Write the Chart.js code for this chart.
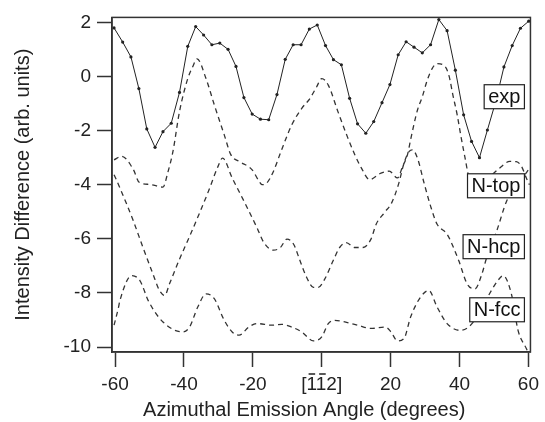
<!DOCTYPE html>
<html>
<head>
<meta charset="utf-8">
<script src="https://cdn.jsdelivr.net/npm/chart.js@4/dist/chart.umd.min.js"></script>
<style>
  body { margin: 0; background: #fff; }
  #wrap { width: 545px; height: 422px; position: relative; }
</style>
</head>
<body>
<div id="wrap"><canvas id="azimuth-chart"></canvas></div>
<script>
/* global Chart */

// measured curve (solid line with dots)
const expAngle = [-60.3, -57.8, -55.4, -53.1, -50.8, -48.4, -46.1, -43.7, -41.3, -38.9, -36.6, -34.3, -31.9,
  -29.6, -27.2, -24.9, -22.6, -20.2, -17.8, -15.4, -13.0, -10.6, -8.3, -6.0, -3.6, -1.3, 1.1, 3.4, 5.7,
  8.1, 10.4, 12.8, 15.1, 17.5, 19.8, 22.2, 24.5, 26.8, 29.2, 31.6, 34.0, 36.4, 38.8, 41.2, 43.5, 45.8,
  48.1, 50.5, 52.9, 55.3, 57.7, 60.1];
const expValue = [1.79, 1.27, 0.72, -0.45, -1.94, -2.62, -2.04, -1.73, -0.59, 1.11, 1.84, 1.53, 1.17,
  1.23, 1.0, 0.37, -0.78, -1.39, -1.58, -1.6, -0.67, 0.63, 1.17, 1.17, 1.75, 1.9, 1.14, 0.62, 0.43,
  -0.81, -1.75, -2.1, -1.67, -0.97, -0.3, 0.8, 1.28, 1.08, 0.87, 1.17, 2.1, 1.69, 0.23, -1.42, -2.4, -3.0,
  -1.98, -0.94, 0.35, 1.14, 1.78, 2.04];

// simulations (dashed)
const topAngle = [-60.3, -58.1, -54.7, -53.0, -49.9, -46.1, -44.7, -43.2, -41.3, -38.9, -37.5, -36.2, -33.6,
  -31.2, -28.3, -26.4, -24.0, -20.2, -18.3, -17.3, -15.9, -14.0, -12.0, -8.7, -5.8, -3.4, -1.5, 0.0, 1.9,
  4.7, 7.6, 9.6, 11.5, 13.9, 17.2, 19.6, 22.0, 23.5, 24.9, 25.8, 27.8, 29.2, 30.6, 32.1, 33.5, 35.9, 37.0,
  38.1, 39.3, 40.4, 41.6, 42.7, 45.0, 47.9, 51.7, 54.6, 56.5, 58.0, 59.4, 60.3];
const topValue = [-3.08, -2.95, -3.44, -3.91, -3.99, -4.09, -3.55, -2.77, -1.3, -0.08, 0.35, 0.65, -0.08,
  -1.05, -2.16, -2.89, -3.14, -3.45, -3.85, -4.0, -3.93, -3.5, -2.83, -1.79, -1.18, -0.81, -0.39, -0.08, -0.32,
  -1.3, -2.28, -2.89, -3.38, -3.81, -3.57, -3.5, -3.75, -3.32, -2.89, -2.34, -1.24, -0.75, -0.15, 0.3, 0.47, 0.35, 0.0,
  -0.7, -1.4, -2.2, -3.0, -3.7, -4.0, -3.8, -3.38, -3.14, -3.15, -3.32, -3.75, -4.0];

const hcpAngle = [-60.3, -58.6, -54.7, -51.9, -49.0, -47.1, -45.6, -44.2, -41.3, -38.4, -35.5, -32.7, -30.3,
  -28.8, -26.0, -22.1, -18.8, -16.8, -14.0, -12.0, -10.1, -8.2, -6.3, -4.4, -2.4, -1.0, 0.9, 3.3, 5.2, 7.1,
  9.6, 12.0, 14.3, 15.8, 18.2, 20.3, 22.3, 23.9, 25.4, 26.3, 27.8, 29.7, 31.6, 33.5, 36.4, 39.8, 42.2, 44.5,
  46.5, 47.9, 50.8, 53.7, 55.1, 58.0, 60.3];
const hcpValue = [-3.63, -4.12, -5.34, -6.32, -7.3, -7.91, -8.09, -7.66, -6.75, -5.92, -5.05, -4.18, -3.38,
  -3.02, -3.75, -4.73, -5.59, -6.14, -6.42, -6.32, -6.01, -6.19, -6.81, -7.42, -7.79, -7.79, -7.48, -6.81, -6.32, -6.14,
  -6.32, -6.32, -6.01, -5.46, -5.03, -4.67, -3.98, -3.2, -2.77, -2.71, -3.02, -3.93, -4.79, -5.46, -5.83, -6.81, -7.66, -7.85,
  -7.3, -6.69, -5.71, -4.6, -4.3, -3.8, -3.4];

const fccAngle = [-60.3, -59.1, -58.6, -55.2, -52.8, -50.3, -46.1, -40.3, -38.4, -36.0, -33.6, -31.2, -28.3,
  -26.0, -24.0, -21.2, -18.8, -14.4, -11.6, -8.7, -5.8, -2.4, 0.0, 1.9, 3.8, 6.7, 10.5, 14.3, 18.6, 20.1,
  22.0, 23.9, 25.8, 28.7, 31.1, 33.5, 36.4, 40.2, 42.6, 45.0, 48.4, 50.8, 52.7, 55.1, 57.0, 59.4, 60.3];
const fccValue = [-9.19, -8.58, -8.28, -7.36, -7.54, -8.3, -9.07, -9.44, -9.26, -8.52, -8.03, -8.21, -9.01,
  -9.44, -9.56, -9.26, -9.13, -9.19, -9.16, -9.26, -9.44, -9.77, -9.62, -9.13, -9.01, -9.07, -9.19, -9.31, -9.26, -9.44,
  -9.77, -9.68, -8.89, -8.15, -7.91, -8.52, -9.13, -9.38, -9.26, -8.9, -8.1, -7.6, -7.36, -8.05, -9.38, -10.05, -10.3];

const xTickValues = [-60, -40, -20, 0, 20, 40, 60];
const xTickLabels = ['-60', '-40', '-20', '[112]', '20', '40', '60'];
const yTickValues = [-10, -8, -6, -4, -2, 0, 2];

const curveNames = ['exp', 'N-top', 'N-hcp', 'N-fcc'];
const curveLabelValue = [-0.75, -4.04, -6.29, -8.62];
const curveLabelAngle = 58.85;

const xTitle = 'Azimuthal Emission Angle (degrees)';

const FONT = '"Liberation Sans", Arial, Helvetica, sans-serif';
const INK = '#222';

const toPoints = (xs, ys) => xs.map((x, i) => ({x: x, y: ys[i]}));

function dashed(label, xs, ys) {
  return {
    label: label,
    data: toPoints(xs, ys),
    showLine: true,
    borderColor: '#333',
    borderWidth: 1.3,
    borderDash: [5, 4],
    pointRadius: 0,
    cubicInterpolationMode: 'monotone'
  };
}

// frame, curve labels, x title and the bars over the [-1-12] tick
const decorations = {
  id: 'decorations',
  afterDatasetsDraw(chart) {
    const {ctx, chartArea: a, scales: {x, y}} = chart;
    ctx.save();
    ctx.strokeStyle = '#333';
    ctx.lineWidth = 1.5;
    ctx.strokeRect(a.left, a.top, a.right - a.left, a.bottom - a.top);

    ctx.font = '20px ' + FONT;
    ctx.textAlign = 'center';
    ctx.textBaseline = 'middle';
    curveNames.forEach((name, i) => {
      const w = ctx.measureText(name).width + 8;
      const h = 24;
      const right = x.getPixelForValue(curveLabelAngle);
      const cy = y.getPixelForValue(curveLabelValue[i]);
      ctx.fillStyle = '#fff';
      ctx.fillRect(right - w, cy - h / 2, w, h);
      ctx.lineWidth = 1.2;
      ctx.strokeStyle = '#222';
      ctx.strokeRect(right - w, cy - h / 2, w, h);
      ctx.fillStyle = '#111';
      ctx.fillText(name, right - w / 2, cy + 1);
    });
    ctx.restore();
  },
  afterDraw(chart) {
    const {ctx, chartArea: a, scales: {x}} = chart;
    ctx.save();
    ctx.font = '19px ' + FONT;
    const label = xTickLabels[xTickValues.indexOf(0)];
    const total = ctx.measureText(label).width;
    const wb = ctx.measureText('[').width;
    const w1 = ctx.measureText('1').width;
    const left = x.getPixelForValue(0) - total / 2;
    const barY = a.bottom + 22;
    ctx.strokeStyle = INK;
    ctx.lineWidth = 1.5;
    for (let k = 0; k < 2; k++) {
      const s = left + wb + k * w1;
      ctx.beginPath();
      ctx.moveTo(s + 2, barY);
      ctx.lineTo(s + w1 - 2, barY);
      ctx.stroke();
    }

    // axis title sits a little left of the axis centre in the original
    ctx.font = '20px ' + FONT;
    ctx.fillStyle = INK;
    ctx.textAlign = 'center';
    ctx.textBaseline = 'middle';
    ctx.fillText(xTitle, (a.left + a.right) / 2 - 17, chart.height - 12);
    ctx.restore();
  }
};

new Chart('azimuth-chart', {
  type: 'scatter',
  data: {
    datasets: [
      {
        label: 'exp',
        data: toPoints(expAngle, expValue),
        showLine: true,
        borderColor: '#222',
        borderWidth: 1,
        pointRadius: 1.6,
        pointBackgroundColor: '#222',
        pointBorderWidth: 0
      },
      dashed('N-top', topAngle, topValue),
      dashed('N-hcp', hcpAngle, hcpValue),
      dashed('N-fcc', fccAngle, fccValue)
    ]
  },
  options: {
    responsive: true,
    maintainAspectRatio: false,
    animation: false,
    layout: {padding: {top: 15, right: 11, left: 0, bottom: 0}},
    plugins: {legend: {display: false}, tooltip: {enabled: false}},
    scales: {
      x: {
        type: 'linear',
        min: -60.9,
        max: 60.6,
        afterBuildTicks: s => { s.ticks = xTickValues.map(v => ({value: v})); },
        afterFit: s => { s.height = 70; },
        border: {display: true, color: '#333', width: 1.5},
        grid: {drawOnChartArea: false, drawTicks: true, tickLength: 15, tickColor: '#333', tickWidth: 1.5},
        ticks: {
          font: {family: FONT, size: 19},
          color: INK,
          padding: 6,
          maxRotation: 0,
          autoSkip: false,
          callback: (v, i) => xTickLabels[i]
        },
        title: {display: false}
      },
      y: {
        type: 'linear',
        min: -10.18,
        max: 2.18,
        afterBuildTicks: s => { s.ticks = yTickValues.map(v => ({value: v})); },
        afterFit: s => { s.width = 112; },
        border: {display: true, color: '#333', width: 1.5},
        grid: {drawOnChartArea: false, drawTicks: true, tickLength: 15, tickColor: '#333', tickWidth: 1.5},
        ticks: {
          font: {family: FONT, size: 19},
          color: INK,
          padding: 6,
          callback: v => String(v)
        },
        title: {
          display: true,
          text: 'Intensity Difference (arb. units)',
          font: {family: FONT, size: 20},
          color: INK,
          padding: {top: 11, bottom: 0}
        }
      }
    }
  },
  plugins: [decorations]
});
</script>
</body>
</html>
